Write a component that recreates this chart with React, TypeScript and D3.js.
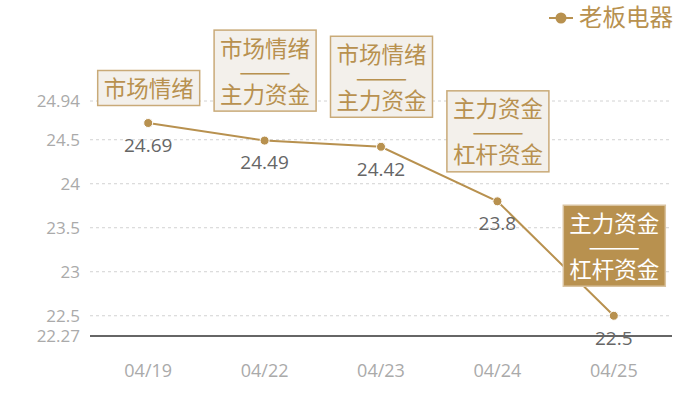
import { useMemo } from "react";
import * as d3 from "d3";

const WIDTH = 700;
const HEIGHT = 400;
const MARGIN = { top: 101, right: 28, bottom: 64, left: 90 };

const DATES = ["04/19", "04/22", "04/23", "04/24", "04/25"];
const PRICES = [24.69, 24.49, 24.42, 23.8, 22.5];
const NOTES: string[][] = [
  ["市场情绪"],
  ["市场情绪", "——", "主力资金"],
  ["市场情绪", "——", "主力资金"],
  ["主力资金", "——", "杠杆资金"],
  ["主力资金", "——", "杠杆资金"],
];
const HIGHLIGHT_DATE = "04/25";
const Y_TICKS = [22.27, 22.5, 23, 23.5, 24, 24.5, 24.94];
const SERIES_NAME = "老板电器";

const GOLD = "#b8914f";
const BOX_FILL = "#f3f0eb";
const BOX_STROKE = "#c9aa78";
const TEXT_GOLD = "#b8914f";
const AXIS_TEXT = "#aaaaaa";
const VALUE_TEXT = "#666666";
const GRID = "#d2d2d2";
const FONT = "'Noto Sans CJK SC', 'Noto Sans', sans-serif";
const NUM_FONT = "'Open Sans', 'Noto Sans', sans-serif";

const BOX_W = 102;
const LINE_H = 23;
const BOX_PAD = 6;

export default function App() {
  const innerW = WIDTH - MARGIN.left - MARGIN.right;
  const innerH = HEIGHT - MARGIN.top - MARGIN.bottom;

  const x = useMemo(
    () => d3.scalePoint<string>().domain(DATES).range([0, innerW]).padding(0.5),
    [innerW],
  );
  const y = useMemo(
    () => d3.scaleLinear().domain([22.27, 24.94]).range([innerH, 0]),
    [innerH],
  );

  const points = DATES.map((d, i) => ({ date: d, value: PRICES[i], note: NOTES[i] }));
  const line = d3
    .line<{ date: string; value: number }>()
    .x((d) => x(d.date) ?? 0)
    .y((d) => y(d.value));

  const fmt = (v: number) => `${+v.toFixed(2)}`;

  return (
    <svg
      width={WIDTH}
      height={HEIGHT}
      style={{ position: "absolute", left: 0, top: 0, background: "#fff" }}
      fontFamily={FONT}
    >
      <g transform={`translate(${MARGIN.left},${MARGIN.top})`}>
        {Y_TICKS.map((t) => (
          <g key={t} transform={`translate(0,${y(t)})`}>
            {t !== 22.27 && (
              <line x1={0} x2={innerW} stroke={GRID} strokeDasharray="3 3" strokeWidth={1} />
            )}
            <text
              x={-10}
              dy="0.36em"
              textAnchor="end"
              fontSize={17}
              fontFamily={NUM_FONT}
              fill={AXIS_TEXT}
            >
              {fmt(t)}
            </text>
          </g>
        ))}
        <line x1={0} x2={innerW} y1={innerH} y2={innerH} stroke="#333" strokeWidth={1.5} />
        {DATES.map((d) => (
          <text
            key={d}
            x={x(d)}
            y={innerH + 35}
            dy="0.36em"
            textAnchor="middle"
            fontSize={18}
            fontFamily={NUM_FONT}
            fill={AXIS_TEXT}
          >
            {d}
          </text>
        ))}

        <path d={line(points) ?? ""} fill="none" stroke={GOLD} strokeWidth={2} />
        {points.map((p) => (
          <circle
            key={p.date}
            cx={x(p.date)}
            cy={y(p.value)}
            r={4.5}
            fill={GOLD}
            stroke="#fff"
            strokeWidth={1}
          />
        ))}
        {points.map((p) => (
          <text
            key={p.date}
            x={x(p.date)}
            y={y(p.value) + 22}
            dy="0.36em"
            textAnchor="middle"
            fontSize={19}
            fontFamily={NUM_FONT}
            fill={VALUE_TEXT}
          >
            {p.value}
          </text>
        ))}

        {points.map((p) => {
          const hl = p.date === HIGHLIGHT_DATE;
          const h = p.note.length * LINE_H + BOX_PAD * 2;
          const cx = x(p.date) ?? 0;
          const gap = p.note.length > 1 ? 30 : 18;
          const top = y(p.value) - gap - h;
          return (
            <g key={p.date} transform={`translate(${cx - BOX_W / 2},${top})`}>
              <rect
                x={0.5}
                y={0.5}
                width={BOX_W}
                height={h}
                fill={hl ? GOLD : BOX_FILL}
                stroke={hl ? "#d9c3a0" : BOX_STROKE}
                strokeWidth={1.5}
              />
              {p.note.map((ln, j) => (
                <text
                  key={j}
                  x={BOX_W / 2 + 0.5}
                  y={BOX_PAD + LINE_H / 2 + j * LINE_H + 1.5}
                  dy="0.36em"
                  textAnchor="middle"
                  fontSize={22.5}
                  fill={hl ? "#fff" : TEXT_GOLD}
                  textLength={ln === "——" ? 52 : undefined}
                  lengthAdjust={ln === "——" ? "spacingAndGlyphs" : undefined}
                >
                  {ln}
                </text>
              ))}
            </g>
          );
        })}
      </g>

      <g transform="translate(549,18)">
        <line x1={0} x2={24} stroke={GOLD} strokeWidth={2} />
        <circle cx={12} cy={0} r={5.5} fill={GOLD} />
        <text x={30} dy="0.36em" fontSize={23.5} fill={TEXT_GOLD}>
          {SERIES_NAME}
        </text>
      </g>
    </svg>
  );
}
